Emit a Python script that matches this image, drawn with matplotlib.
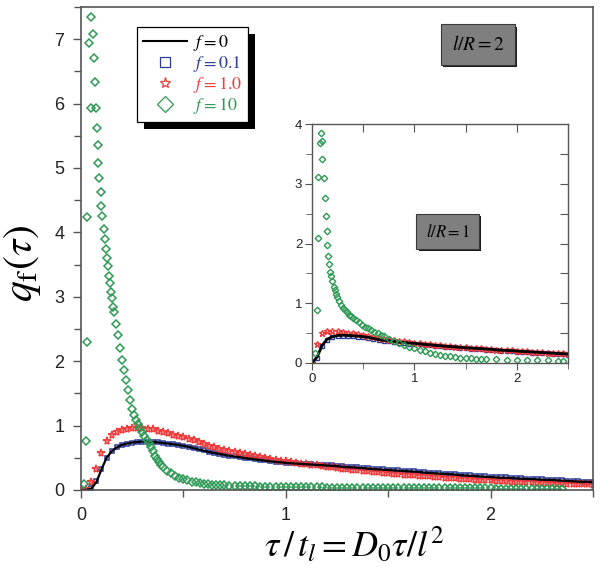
import matplotlib
matplotlib.use("Agg")
import matplotlib.pyplot as plt
import matplotlib.patheffects as pe
from matplotlib.lines import Line2D
from matplotlib.ticker import MultipleLocator

plt.rcParams['font.family'] = ['Liberation Sans', 'DejaVu Sans']
plt.rcParams['mathtext.fontset'] = 'stix'

# sample grid (tau / t_l) used for the f = 0, 0.1, 1.0 curves
tau = [0.000, 0.025, 0.050, 0.075, 0.100, 0.125, 0.150, 0.175, 0.200, 0.225,
       0.250, 0.275, 0.300, 0.325, 0.350, 0.375, 0.400, 0.425, 0.450, 0.475,
       0.500, 0.525, 0.550, 0.575, 0.600, 0.625, 0.650, 0.675, 0.700, 0.725,
       0.750, 0.775, 0.800, 0.825, 0.850, 0.875, 0.900, 0.925, 0.950, 0.975,
       1.000, 1.025, 1.050, 1.075, 1.100, 1.125, 1.150, 1.175, 1.200, 1.225,
       1.250, 1.275, 1.300, 1.325, 1.350, 1.375, 1.400, 1.425, 1.450, 1.475,
       1.500, 1.525, 1.550, 1.575, 1.600, 1.625, 1.650, 1.675, 1.700, 1.725,
       1.750, 1.775, 1.800, 1.825, 1.850, 1.875, 1.900, 1.925, 1.950, 1.975,
       2.000, 2.025, 2.050, 2.075, 2.100, 2.125, 2.150, 2.175, 2.200, 2.225,
       2.250, 2.275, 2.300, 2.325, 2.350, 2.375, 2.400, 2.425, 2.450, 2.475,
       2.500]

# main panel, l/R = 2
q_f0 = [0, 0, 0.02, 0.12, 0.32, 0.50, 0.60, 0.66, 0.70, 0.72,
        0.735, 0.745, 0.75, 0.75, 0.745, 0.74, 0.73, 0.72, 0.71, 0.70,
        0.685, 0.67, 0.65, 0.63, 0.61, 0.59, 0.575, 0.56, 0.545, 0.53,
        0.52, 0.51, 0.495, 0.485, 0.475, 0.465, 0.455, 0.445, 0.435, 0.43,
        0.42, 0.415, 0.41, 0.405, 0.40, 0.395, 0.39, 0.385, 0.38, 0.375,
        0.37, 0.36, 0.355, 0.35, 0.345, 0.34, 0.33, 0.325, 0.32, 0.315,
        0.31, 0.305, 0.30, 0.295, 0.29, 0.285, 0.28, 0.27, 0.265, 0.26,
        0.255, 0.25, 0.245, 0.24, 0.23, 0.225, 0.22, 0.215, 0.21, 0.205,
        0.20, 0.195, 0.19, 0.19, 0.185, 0.18, 0.175, 0.17, 0.17, 0.165,
        0.16, 0.155, 0.155, 0.15, 0.145, 0.14, 0.135, 0.13, 0.125, 0.125,
        0.12]
q_f01 = [0, 0, 0.03, 0.14, 0.33, 0.50, 0.60, 0.66, 0.70, 0.72,
         0.735, 0.745, 0.75, 0.75, 0.745, 0.74, 0.73, 0.72, 0.71, 0.70,
         0.685, 0.67, 0.655, 0.635, 0.615, 0.595, 0.58, 0.565, 0.55, 0.535,
         0.525, 0.515, 0.50, 0.49, 0.48, 0.47, 0.46, 0.45, 0.44, 0.435,
         0.425, 0.42, 0.415, 0.41, 0.405, 0.40, 0.395, 0.39, 0.385, 0.38,
         0.375, 0.365, 0.36, 0.355, 0.35, 0.345, 0.335, 0.33, 0.325, 0.32,
         0.315, 0.31, 0.305, 0.30, 0.295, 0.29, 0.285, 0.275, 0.27, 0.265,
         0.26, 0.255, 0.25, 0.245, 0.235, 0.23, 0.225, 0.22, 0.215, 0.21,
         0.205, 0.20, 0.195, 0.195, 0.19, 0.185, 0.18, 0.175, 0.175, 0.17,
         0.165, 0.16, 0.16, 0.155, 0.15, 0.145, 0.14, 0.135, 0.13, 0.13,
         0.125]
q_f1 = [0, 0.02, 0.12, 0.33, 0.58, 0.76, 0.85, 0.90, 0.93, 0.95,
        0.96, 0.965, 0.96, 0.95, 0.94, 0.92, 0.90, 0.88, 0.86, 0.84,
        0.82, 0.795, 0.77, 0.74, 0.71, 0.685, 0.66, 0.64, 0.62, 0.60,
        0.585, 0.57, 0.555, 0.54, 0.525, 0.51, 0.495, 0.48, 0.47, 0.455,
        0.445, 0.435, 0.425, 0.41, 0.40, 0.39, 0.38, 0.37, 0.36, 0.35,
        0.34, 0.33, 0.32, 0.31, 0.305, 0.295, 0.29, 0.28, 0.275, 0.265,
        0.26, 0.255, 0.245, 0.24, 0.235, 0.23, 0.22, 0.215, 0.21, 0.205,
        0.195, 0.19, 0.185, 0.18, 0.175, 0.17, 0.165, 0.16, 0.155, 0.15,
        0.15, 0.145, 0.14, 0.135, 0.13, 0.13, 0.125, 0.12, 0.12, 0.115,
        0.11, 0.11, 0.105, 0.10, 0.10, 0.095, 0.09, 0.09, 0.085, 0.085,
        0.08]
# f = 10: early (irregular) samples, then the tail on the tau grid from 0.7
g_tau = [0.015, 0.024, 0.03, 0.03, 0.04, 0.047, 0.049, 0.06, 0.063, 0.067,
         0.073, 0.077, 0.082, 0.085, 0.088, 0.097, 0.10, 0.103, 0.11, 0.118,
         0.12, 0.126, 0.13, 0.135, 0.14, 0.145, 0.15, 0.157, 0.16, 0.17,
         0.18, 0.19, 0.20, 0.21, 0.22, 0.23, 0.24, 0.25, 0.26, 0.27,
         0.28, 0.29, 0.30, 0.31, 0.32, 0.33, 0.34, 0.35, 0.36, 0.37,
         0.38, 0.39, 0.40, 0.42, 0.44, 0.46, 0.48, 0.50, 0.52, 0.54,
         0.56, 0.58, 0.60, 0.62, 0.64, 0.66, 0.68]
g_q = [0.10, 0.76, 2.30, 4.24, 6.94, 5.93, 7.34, 7.08, 6.70, 6.34,
       5.93, 5.62, 5.35, 5.07, 4.85, 4.63, 4.41, 4.26, 4.05, 3.90,
       3.74, 3.60, 3.47, 3.33, 3.21, 3.08, 2.98, 2.84, 2.76, 2.58,
       2.40, 2.20, 2.02, 1.86, 1.70, 1.55, 1.40, 1.26, 1.16, 1.09,
       1.02, 0.96, 0.90, 0.84, 0.78, 0.73, 0.66, 0.60, 0.53, 0.48,
       0.43, 0.38, 0.35, 0.30, 0.26, 0.22, 0.19, 0.17, 0.15, 0.13,
       0.12, 0.11, 0.10, 0.09, 0.08, 0.08, 0.075]
g_tail = [0.07, 0.068, 0.065, 0.062, 0.06, 0.058, 0.055, 0.053, 0.05, 0.05,
          0.048, 0.046, 0.045, 0.044, 0.043, 0.042, 0.041, 0.04, 0.04, 0.039,
          0.038, 0.037, 0.037, 0.036, 0.035, 0.035, 0.034, 0.033, 0.033, 0.032,
          0.032, 0.031, 0.03, 0.03, 0.03, 0.029, 0.029, 0.028, 0.028, 0.027,
          0.027, 0.026, 0.026, 0.026, 0.025, 0.025, 0.025, 0.024, 0.024, 0.024,
          0.023, 0.023, 0.023, 0.022, 0.022, 0.022, 0.022, 0.021, 0.021, 0.021,
          0.021, 0.02, 0.02, 0.02, 0.02, 0.02, 0.02]

# inset, l/R = 1 (every other tau sample)
in_f0 = [0, 0.1, 0.3, 0.4, 0.44, 0.46, 0.465, 0.46, 0.455, 0.45,
         0.44, 0.43, 0.41, 0.39, 0.38, 0.37, 0.36, 0.35, 0.34, 0.335,
         0.33, 0.32, 0.31, 0.305, 0.295, 0.29, 0.28, 0.275, 0.27, 0.26,
         0.255, 0.25, 0.245, 0.24, 0.235, 0.23, 0.22, 0.215, 0.21, 0.205,
         0.2, 0.195, 0.19, 0.185, 0.18, 0.175, 0.17, 0.165, 0.16, 0.155,
         0.15]
in_f01 = [0, 0.08, 0.28, 0.39, 0.43, 0.45, 0.455, 0.45, 0.445, 0.44,
          0.43, 0.42, 0.40, 0.38, 0.37, 0.36, 0.35, 0.34, 0.33, 0.325,
          0.32, 0.31, 0.30, 0.295, 0.285, 0.28, 0.27, 0.265, 0.26, 0.25,
          0.245, 0.24, 0.235, 0.23, 0.225, 0.22, 0.21, 0.205, 0.2, 0.195,
          0.19, 0.185, 0.18, 0.175, 0.17, 0.165, 0.16, 0.155, 0.15, 0.145,
          0.14]
in_f1 = [0, 0.32, 0.5, 0.53, 0.535, 0.53, 0.52, 0.51, 0.5, 0.49,
         0.47, 0.455, 0.44, 0.42, 0.405, 0.39, 0.38, 0.37, 0.36, 0.35,
         0.34, 0.33, 0.32, 0.31, 0.30, 0.295, 0.285, 0.28, 0.27, 0.265,
         0.26, 0.255, 0.25, 0.245, 0.24, 0.235, 0.225, 0.22, 0.215, 0.21,
         0.205, 0.2, 0.195, 0.19, 0.185, 0.18, 0.175, 0.17, 0.165, 0.16,
         0.155]
in_g_tau = [0.03, 0.046, 0.055, 0.06, 0.078, 0.085, 0.094, 0.10, 0.12, 0.127,
            0.137, 0.146, 0.15, 0.16, 0.17, 0.18, 0.19, 0.20, 0.21, 0.22,
            0.23, 0.24, 0.26, 0.28, 0.30, 0.32, 0.34, 0.36, 0.38, 0.40,
            0.43, 0.46, 0.49, 0.52, 0.55, 0.58, 0.61, 0.64, 0.67, 0.70,
            0.75, 0.80, 0.85, 0.90, 0.95, 1.00, 1.05, 1.10, 1.15, 1.20,
            1.25, 1.30, 1.35, 1.40, 1.45, 1.50, 1.55, 1.60, 1.65, 1.70,
            1.80, 1.90, 2.00, 2.10, 2.20, 2.30, 2.40, 2.45]
in_g_q = [0.17, 0.89, 2.09, 3.11, 3.69, 3.85, 3.72, 3.41, 3.09, 2.76,
          2.46, 2.21, 1.97, 1.79, 1.65, 1.53, 1.45, 1.38, 1.28, 1.22,
          1.16, 1.11, 1.04, 0.97, 0.92, 0.88, 0.85, 0.81, 0.78, 0.76,
          0.72, 0.68, 0.64, 0.61, 0.58, 0.55, 0.52, 0.50, 0.47, 0.45,
          0.41, 0.37, 0.33, 0.30, 0.27, 0.25, 0.22, 0.20, 0.17, 0.15,
          0.14, 0.12, 0.11, 0.10, 0.09, 0.085, 0.08, 0.075, 0.07, 0.065,
          0.06, 0.055, 0.05, 0.05, 0.045, 0.045, 0.04, 0.04]

labels = [r'$f = 0$', r'$f = 0.1$', r'$f = 1.0$', r'$f = 10$']
c_blue = '#2b3c98'
c_red = '#ef3b3b'
c_green = '#2f9a55'
c_axis = '#555555'

tau_in = tau[::2]
tail_tau = tau[28:28 + len(g_tail)]


def style_spines(a, lw):
    for s in a.spines.values():
        s.set_color(c_axis)
        s.set_linewidth(lw)


fig = plt.figure(figsize=(6.0, 5.73), dpi=100)
ax = fig.add_axes([0.135, 0.1449, 0.8533, 0.843])

ax.plot(tau, q_f01, ls='none', marker='s', ms=3.4, mfc='none', mec=c_blue, mew=1.1)
ax.plot(tau, q_f1, ls='none', marker='*', ms=5.8, mfc='none', mec=c_red, mew=1.1)
ax.plot(tau, q_f0, color='k', lw=1.6)
ax.plot(g_tau, g_q, ls='none', marker='D', ms=4.0, mfc='none', mec=c_green, mew=1.1)
ax.plot(tail_tau, g_tail, ls='none', marker='D', ms=4.0, mfc='none', mec=c_green, mew=1.2)

ax.set_xlim(0, 2.5)
ax.set_ylim(0, 7.5)
ax.set_xticks([0, 1, 2])
ax.set_yticks(range(8))
ax.xaxis.set_minor_locator(MultipleLocator(0.5))
ax.yaxis.set_minor_locator(MultipleLocator(0.5))
ax.tick_params(which='both', direction='out', color=c_axis, width=1.0,
               labelsize=13, labelcolor='#222222', top=False, right=False, pad=6)
ax.tick_params(which='major', length=6)
ax.tick_params(which='minor', length=5)
style_spines(ax, 1.2)

ax.set_ylabel(r'$q_{\rm f}(\tau)$', fontsize=30)
ax.yaxis.set_label_coords(-0.075, 0.47)
ax.set_xlabel(r'$\tau\,/\,t_l = D_0\tau/l^2$', fontsize=26)
ax.xaxis.set_label_coords(0.535, -0.075)

handles = [Line2D([], [], color='k', lw=1.5),
           Line2D([], [], ls='none', marker='s', ms=7, mfc='none', mec=c_blue, mew=0.9),
           Line2D([], [], ls='none', marker='*', ms=8, mfc='none', mec=c_red, mew=0.9),
           Line2D([], [], ls='none', marker='D', ms=8, mfc='none', mec=c_green, mew=0.9)]
leg = ax.legend(handles, labels, loc='upper left', bbox_to_anchor=(137 / 600, 1 - 27 / 573),
                bbox_transform=fig.transFigure, borderaxespad=0, fancybox=False,
                prop={'size': 13}, handlelength=2.4, handletextpad=0.35,
                labelspacing=0.05, borderpad=0.35, framealpha=1)
leg.get_frame().set_edgecolor('k')
leg.get_frame().set_linewidth(0.9)
leg.get_frame().set_path_effects([pe.withSimplePatchShadow(offset=(5, -5), shadow_rgbFace='k', alpha=1.0)])
for t, c in zip(leg.get_texts(), ['k', c_blue, c_red, c_green]):
    t.set_color(c)

box = dict(boxstyle='square,pad=0.55', fc='#7f7f7f', ec='#3a3a3a', lw=0.8)
t2 = fig.text(0.797, 0.922, r'$l/R = 2$', ha='center', va='center', fontsize=14, bbox=box)
t2.get_bbox_patch().set_path_effects([pe.withSimplePatchShadow(offset=(1.5, -1.5), shadow_rgbFace='k', alpha=0.9)])

# inset
ins = fig.add_axes([0.52, 0.3665, 0.4267, 0.417])
ins.plot(tau_in, in_f01, ls='none', marker='s', ms=3.0, mfc='none', mec=c_blue, mew=1.0)
ins.plot(tau_in, in_f1, ls='none', marker='*', ms=4.6, mfc='none', mec=c_red, mew=1.0)
ins.plot(tau_in, in_f0, color='k', lw=2.0)
ins.plot(in_g_tau, in_g_q, ls='none', marker='D', ms=3.3, mfc='none', mec=c_green, mew=1.0)
ins.set_xlim(0, 2.5)
ins.set_ylim(0, 4)
ins.set_xticks([0, 1, 2])
ins.set_yticks([0, 1, 2, 3, 4])
ins.xaxis.set_minor_locator(MultipleLocator(0.5))
ins.yaxis.set_minor_locator(MultipleLocator(0.5))
ins.tick_params(which='both', direction='out', color=c_axis, labelsize=9.5,
                labelcolor='#222222', top=False, right=False, pad=2)
ins.tick_params(which='major', length=5)
ins.tick_params(which='minor', length=4)
style_spines(ins, 1.0)

top = ins.secondary_xaxis('top')
top.set_xticks([0.5, 1.0, 1.5, 2.0])
top.tick_params(direction='in', length=6, color=c_axis, labeltop=False)
rgt = ins.secondary_yaxis('right')
rgt.set_yticks([0.5, 1.0, 1.5, 2.0, 2.5, 3.0, 3.5])
rgt.tick_params(direction='in', length=6, color=c_axis, labelright=False)
for a in (top, rgt):
    for s in a.spines.values():
        s.set_visible(False)

t1 = ins.text(0.53, 0.55, r'$l/R = 1$', transform=ins.transAxes, ha='center', va='center',
              fontsize=12, bbox=box)
t1.get_bbox_patch().set_path_effects([pe.withSimplePatchShadow(offset=(1.5, -1.5), shadow_rgbFace='k', alpha=0.9)])

fig.savefig('out.png', dpi=100)
